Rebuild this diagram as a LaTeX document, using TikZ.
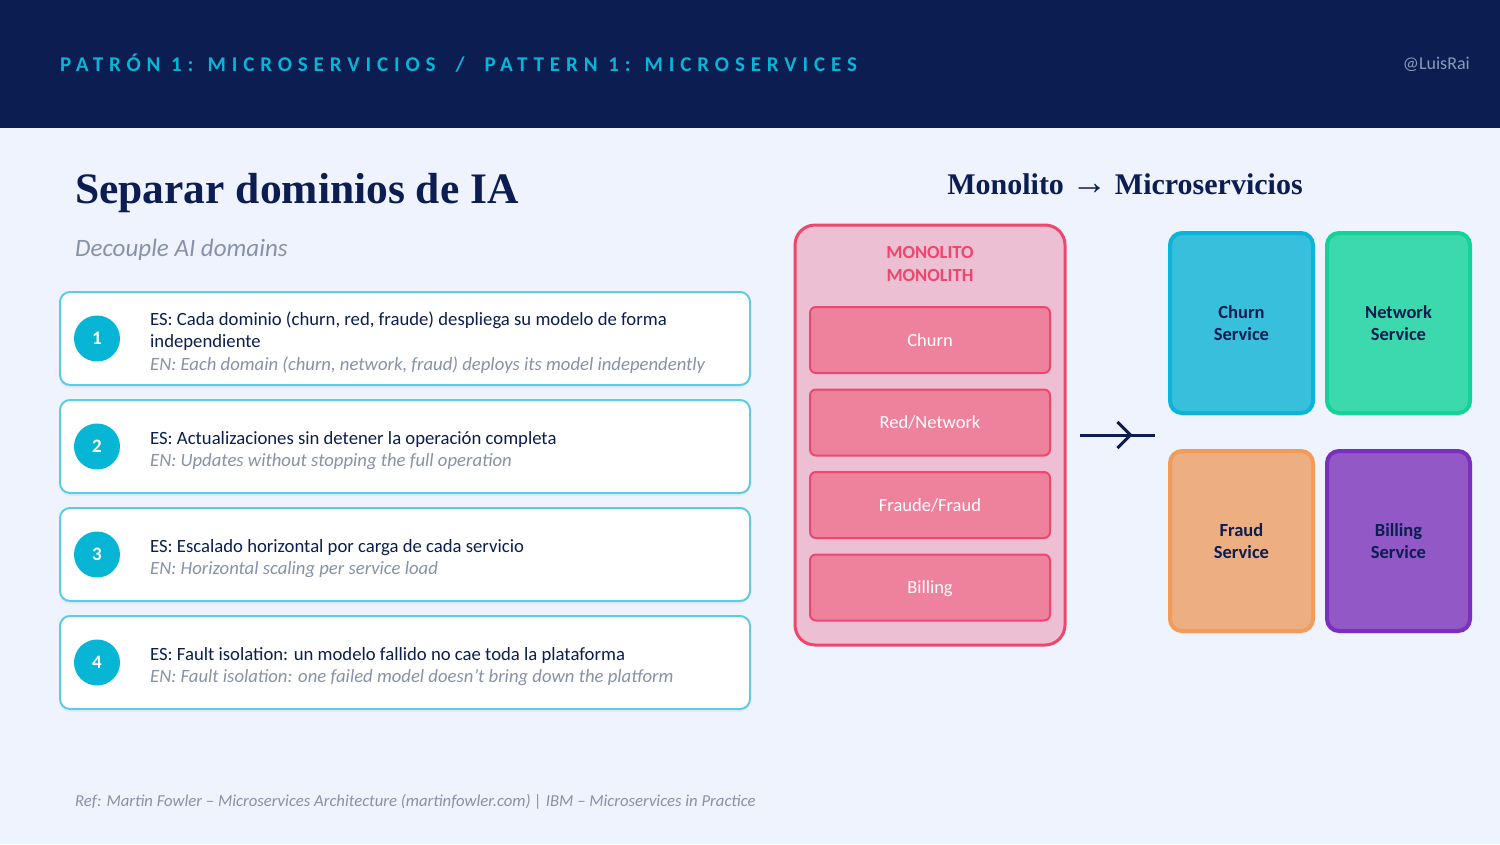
\documentclass[tikz,border=0pt]{standalone}
\usepackage{fontspec}
\setmainfont{Carlito}
\newfontfamily\titlefont{Liberation Serif}
\newfontfamily\spacedfont[LetterSpace=28]{Carlito}
\usepackage{xcolor}
\usetikzlibrary{positioning,arrows.meta,shadows,calc}

\definecolor{navy}{HTML}{0B1D51}
\definecolor{pagebg}{HTML}{EEF3FD}
\definecolor{cyanacc}{HTML}{06B6D4}
\definecolor{cardline}{HTML}{5CCBE3}
\definecolor{grayen}{HTML}{8792A8}
\definecolor{handle}{HTML}{8A9BB8}
\definecolor{monofill}{HTML}{EDBFD3}
\definecolor{monoline}{HTML}{F0466E}
\definecolor{modfill}{HTML}{EE829C}
\definecolor{churnfill}{HTML}{38BFDC}
\definecolor{churnline}{HTML}{0AB4DB}
\definecolor{netfill}{HTML}{3DD9AE}
\definecolor{netline}{HTML}{12D39A}
\definecolor{fraudfill}{HTML}{EDAF82}
\definecolor{fraudline}{HTML}{F39C5A}
\definecolor{billfill}{HTML}{9158C6}
\definecolor{billline}{HTML}{7B2FBE}

\begin{document}
\begin{tikzpicture}[x=1pt, y=-1pt,
  card/.style={draw=cardline, line width=2pt, fill=white, rounded corners=10pt,
    minimum width=690pt, minimum height=93pt,
    drop shadow={opacity=0.07, shadow xshift=0pt, shadow yshift=-3pt}},
  numdot/.style={circle, fill=cyanacc, minimum size=46pt, inner sep=0pt,
    text=white, font=\fontsize{19}{19}\selectfont\bfseries},
  cardtext/.style={anchor=west, align=left, inner sep=0pt, text=navy,
    font=\fontsize{18.7}{22.5}\selectfont},
  module/.style={draw=monoline, line width=2pt, fill=modfill, rounded corners=6pt,
    minimum width=240pt, minimum height=66pt, text=white, text depth=0pt,
    font=\fontsize{18.5}{18.5}\selectfont},
  service/.style={line width=4pt, rounded corners=12pt, minimum width=143pt,
    minimum height=180pt, align=center, text=navy,
    font=\fontsize{18.5}{22.5}\selectfont\bfseries,
    drop shadow={opacity=0.08, shadow xshift=0pt, shadow yshift=-3pt}},
  arrowline/.style={draw=navy, line width=3pt}]
\useasboundingbox (0,0) rectangle (1500,844);
\fill[pagebg] (0,0) rectangle (1500,844);
\fill[navy] (0,0) rectangle (1500,128);

\node[anchor=west, inner sep=0pt, text=cyanacc, font=\fontsize{21}{21}\selectfont\bfseries\spacedfont]
  (header) at (60,63) {PATRÓN 1: MICROSERVICIOS\hspace{20pt}/\hspace{20pt}PATTERN 1: MICROSERVICES};
\node[anchor=east, inner sep=0pt, text=handle, font=\fontsize{18}{18}\selectfont]
  (handle) at (1470,64) {@LuisRai};

\node[anchor=base west, inner sep=0pt, text=navy, font=\fontsize{43.5}{43.5}\selectfont\titlefont\bfseries]
  (title) at (75,203) {Separar dominios de IA};
\node[anchor=base west, inner sep=0pt, text=grayen, font=\fontsize{25}{25}\selectfont\itshape]
  (subtitle) at (75,256) {Decouple AI domains};

\node[card] (c1) at (405,338.5) {};
\node[card] (c2) at (405,446.5) {};
\node[card] (c3) at (405,554.5) {};
\node[card] (c4) at (405,662.5) {};
\node[numdot] (n1) at (97,338.5) {1};
\node[numdot] (n2) at (97,446.5) {2};
\node[numdot] (n3) at (97,554.5) {3};
\node[numdot] (n4) at (97,662.5) {4};
\node[cardtext] (t1) at (150,342.5) {ES: Cada dominio (churn, red, fraude) despliega su modelo de forma\\independiente\\
  {\itshape\color{grayen}EN: Each domain (churn, network, fraud) deploys its model independently}};
\node[cardtext] (t2) at (150,450.5) {ES: Actualizaciones sin detener la operación completa\\
  {\itshape\color{grayen}EN: Updates without stopping the full operation}};
\node[cardtext] (t3) at (150,558.5) {ES: Escalado horizontal por carga de cada servicio\\
  {\itshape\color{grayen}EN: Horizontal scaling per service load}};
\node[cardtext] (t4) at (150,666.5) {ES: Fault isolation: un modelo fallido no cae toda la plataforma\\
  {\itshape\color{grayen}EN: Fault isolation: one failed model doesn't bring down the platform}};

\node[inner sep=0pt, text=navy, font=\fontsize{30}{30}\selectfont\titlefont\bfseries]
  (rtitle) at (1125,184) {Monolito {\fontsize{36}{36}\selectfont→} Microservicios};

\node[draw=monoline, line width=3pt, fill=monofill, rounded corners=20pt,
  minimum width=270pt, minimum height=420pt] (mono) at (930,435) {};
\node[align=center, text=monoline, font=\fontsize{18.5}{22.5}\selectfont\bfseries]
  (monolabel) at (930,264) {MONOLITO\\MONOLITH};
\node[module] (mchurn) at (930,340) {Churn};
\node[module] (mnet) at (930,422.5) {Red/Network};
\node[module] (mfraud) at (930,505) {Fraude/Fraud};
\node[module] (mbill) at (930,587.5) {Billing};

\coordinate (arrL) at (1080,435);
\coordinate (arrR) at (1155,435);
\draw[arrowline] (arrL) -- (arrR);
\draw[arrowline, -{Straight Barb[length=13pt, width=26pt]}] (arrL) -- ($(arrL)!0.7!(arrR)$);

\node[service, draw=churnline, fill=churnfill] (schurn) at (1241.5,323) {Churn\\Service};
\node[service, draw=netline, fill=netfill] (snet) at (1398.5,323) {Network\\Service};
\node[service, draw=fraudline, fill=fraudfill] (sfraud) at (1241.5,541) {Fraud\\Service};
\node[service, draw=billline, fill=billfill] (sbill) at (1398.5,541) {Billing\\Service};

\node[anchor=base west, inner sep=0pt, text=grayen, font=\fontsize{16.7}{16.7}\selectfont\itshape]
  (footer) at (75,806) {Ref: Martin Fowler – Microservices Architecture (martinfowler.com) | IBM – Microservices in Practice};
\end{tikzpicture}
\end{document}
